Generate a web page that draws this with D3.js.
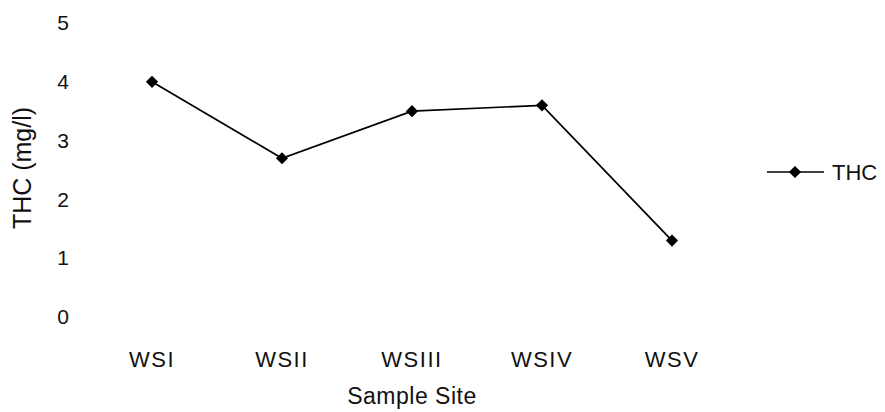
<!DOCTYPE html>
<html>
<head>
<meta charset="utf-8">
<script src="https://cdn.jsdelivr.net/npm/d3@7"></script>
<style>
  html, body { margin: 0; padding: 0; background: #fff; }
  svg { display: block; }
  text { font-family: "Liberation Sans", Arial, sans-serif; fill: #111; }
</style>
</head>
<body>
<div id="chart"></div>
<script>
const categories = ["WSI", "WSII", "WSIII", "WSIV", "WSV"];
const thcValues = [4.0, 2.7, 3.5, 3.6, 1.3];
const yTicks = [0, 1, 2, 3, 4, 5];
const seriesName = "THC";
const xTitle = "Sample Site";
const yTitle = "THC (mg/l)";

const width = 885, height = 412;
const margin = { left: 87, right: 148, top: 23, bottom: 94 };
const FONT = "'Liberation Sans', Arial, sans-serif";

const svg = d3.select("#chart").append("svg")
  .attr("width", width).attr("height", height);

const x = d3.scaleBand()
  .domain(categories)
  .range([margin.left, width - margin.right]);

const y = d3.scaleLinear()
  .domain([0, 5])
  .range([height - margin.bottom - 1, margin.top]);

// Y axis (labels only)
const yAxis = svg.append("g")
  .attr("transform", `translate(${margin.left - 18},0)`)
  .call(d3.axisLeft(y).tickValues(yTicks).tickSize(0).tickPadding(0).tickFormat(d3.format("d")));
yAxis.select(".domain").remove();
yAxis.selectAll("text")
  .style("font-family", FONT)
  .attr("font-size", 21)
  .attr("fill", "#111");

// X axis (labels only)
const xAxis = svg.append("g")
  .attr("transform", `translate(0,351)`)
  .call(d3.axisBottom(x).tickSize(0).tickPadding(0));
xAxis.select(".domain").remove();
xAxis.selectAll("text")
  .style("font-family", FONT)
  .attr("font-size", 22)
  .attr("letter-spacing", 1.5)
  .attr("fill", "#111");

// Axis titles
svg.append("text")
  .attr("x", (margin.left + width - margin.right) / 2)
  .attr("y", 404)
  .attr("text-anchor", "middle")
  .attr("font-size", 23)
  .attr("letter-spacing", 0.5)
  .text(xTitle);

svg.append("text")
  .attr("transform", `translate(31,168) rotate(-90)`)
  .attr("text-anchor", "middle")
  .attr("font-size", 25)
  .text(yTitle);

// Line
const line = d3.line()
  .x((d, i) => x(categories[i]) + x.bandwidth() / 2)
  .y(d => y(d));

svg.append("path")
  .datum(thcValues)
  .attr("fill", "none")
  .attr("stroke", "#000")
  .attr("stroke-width", 1.7)
  .attr("d", line);

const diamond = d3.symbol().type(d3.symbolDiamond2).size(95);

svg.selectAll(".pt")
  .data(thcValues)
  .join("path")
  .attr("class", "pt")
  .attr("transform", (d, i) => `translate(${x(categories[i]) + x.bandwidth() / 2},${y(d)})`)
  .attr("d", diamond)
  .attr("fill", "#000");

// Legend
const lg = svg.append("g").attr("transform", "translate(767,172)");
lg.append("line").attr("x1", 0).attr("x2", 57).attr("y1", 0).attr("y2", 0)
  .attr("stroke", "#000").attr("stroke-width", 1.7);
lg.append("path").attr("transform", "translate(28,0)").attr("d", diamond).attr("fill", "#000");
lg.append("text").attr("x", 65).attr("y", 8).attr("font-size", 22).text(seriesName);
</script>
</body>
</html>
